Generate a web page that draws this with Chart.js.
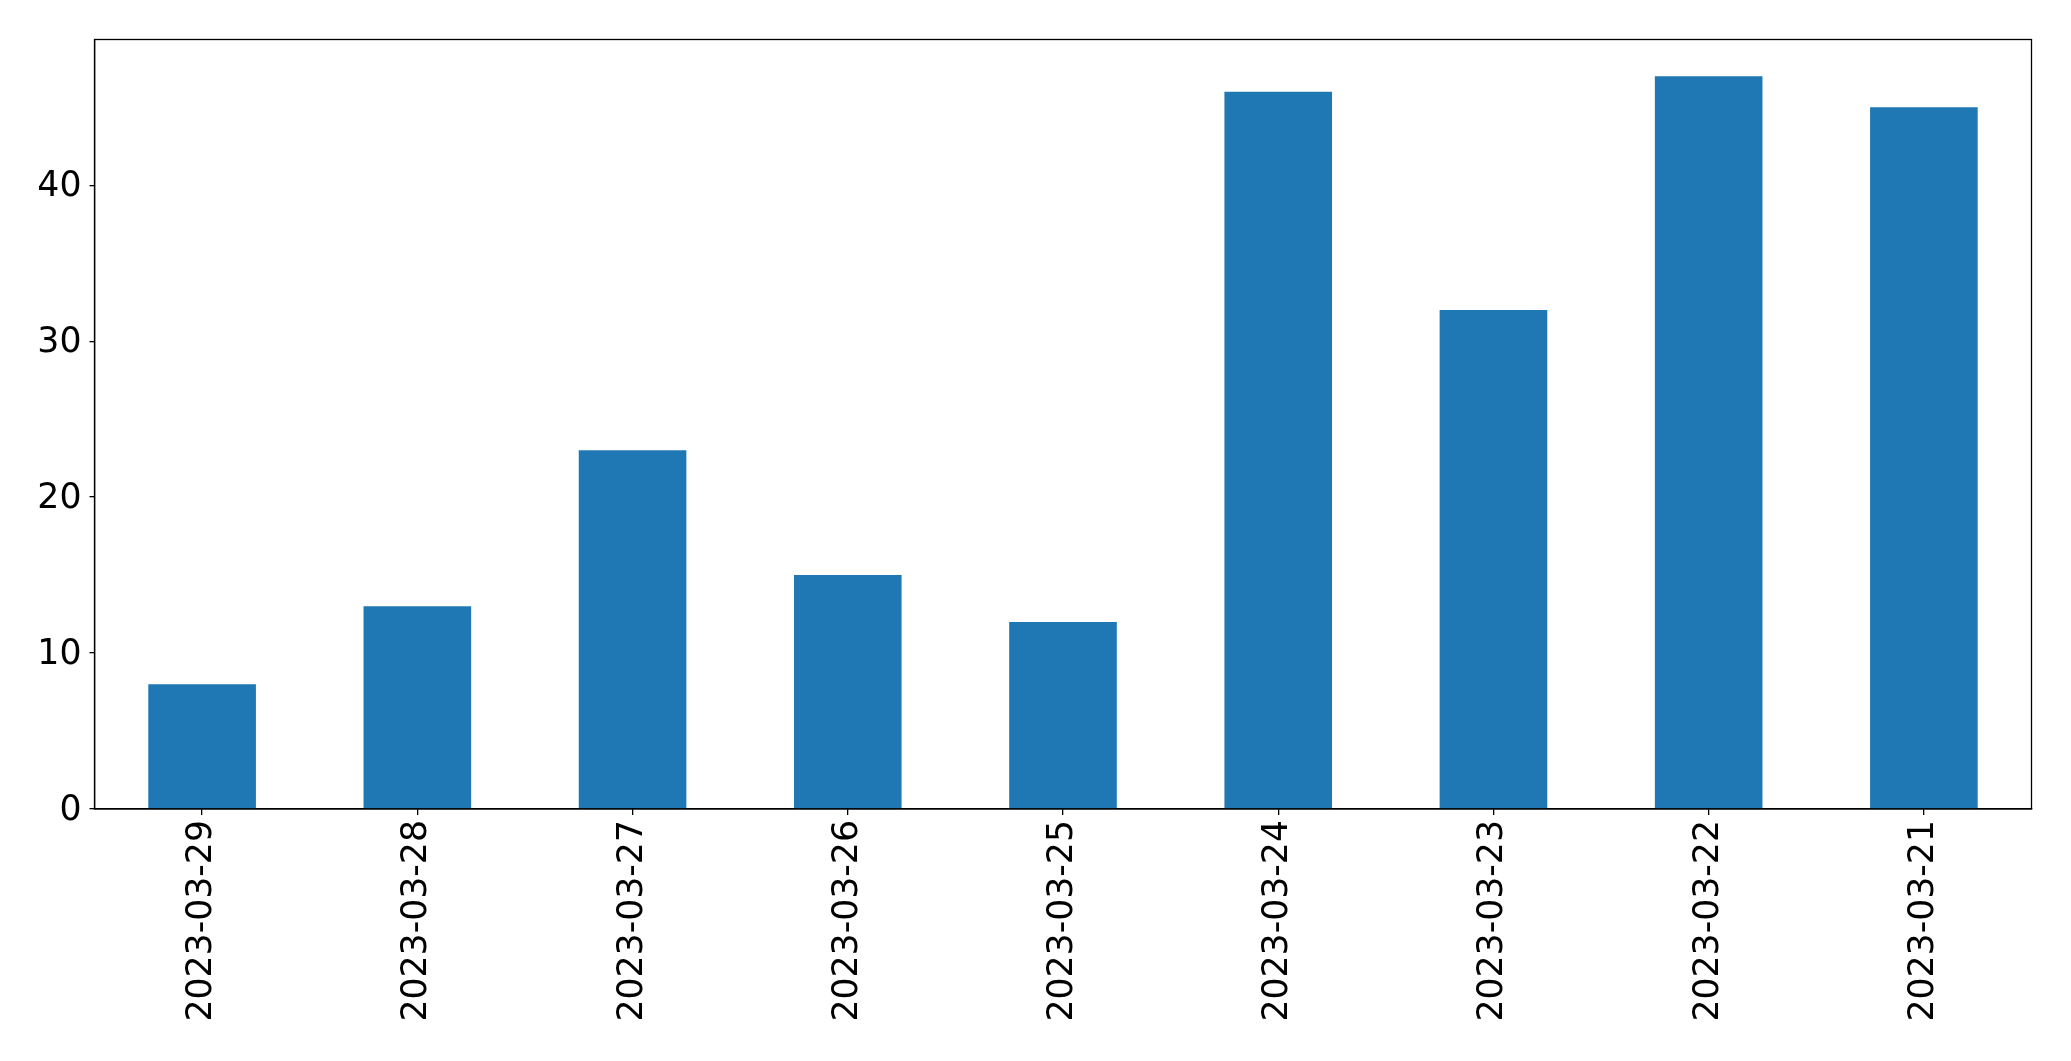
<!DOCTYPE html>
<html>
<head>
<meta charset="utf-8">
<script src="https://cdn.jsdelivr.net/npm/chart.js@4/dist/chart.umd.min.js"></script>
<style>
html,body{margin:0;padding:0;background:#fff;}
#wrap{width:2071px;height:1061px;position:relative;}
</style>
</head>
<body>
<div id="wrap"><canvas id="c" width="2071" height="1061"></canvas></div>
<script>
const categories = ["2023-03-29","2023-03-28","2023-03-27","2023-03-26","2023-03-25","2023-03-24","2023-03-23","2023-03-22","2023-03-21"];
const values = [8, 13, 23, 15, 12, 46, 32, 47, 45];
const yTicks = [0, 10, 20, 30, 40];

const frame = {
  id: 'frame',
  afterDraw(chart) {
    const a = chart.chartArea, ctx = chart.ctx;
    ctx.save();
    ctx.strokeStyle = '#000';
    ctx.lineWidth = 1.3;
    ctx.strokeRect(a.left, a.top, a.right - a.left, a.bottom - a.top);
    ctx.restore();
  }
};

const font = {family: 'DejaVu Sans', size: 34.7};

new Chart(document.getElementById('c'), {
  type: 'bar',
  data: {
    labels: categories,
    datasets: [{
      data: values,
      backgroundColor: '#1f77b4',
      borderWidth: 0,
      barPercentage: 0.5,
      categoryPercentage: 1.0
    }]
  },
  options: {
    responsive: false,
    animation: false,
    devicePixelRatio: 1,
    layout: {padding: {left: 0, right: 39.5, top: 39.5, bottom: 0}},
    plugins: {legend: {display: false}, tooltip: {enabled: false}},
    scales: {
      x: {
        grid: {display: true, offset: false, drawOnChartArea: false, drawTicks: true, tickLength: 6, color: '#000', lineWidth: 1.3},
        border: {display: true, color: '#000', width: 1.3},
        ticks: {color: '#000', font: font, maxRotation: 90, minRotation: 90, padding: 5},
        afterFit(s) { s.height = 1061 - 809; }
      },
      y: {
        min: 0,
        max: 49.35,
        afterBuildTicks(s) { s.ticks = yTicks.map(v => ({value: v})); },
        grid: {display: true, drawOnChartArea: false, drawTicks: true, tickLength: 5, color: '#000', lineWidth: 1.3},
        border: {display: true, color: '#000', width: 1.3},
        ticks: {color: '#000', font: font, padding: 8, labelOffset: 2},
        afterFit(s) { s.width = 94.5; }
      }
    }
  },
  plugins: [frame]
});
</script>
</body>
</html>
